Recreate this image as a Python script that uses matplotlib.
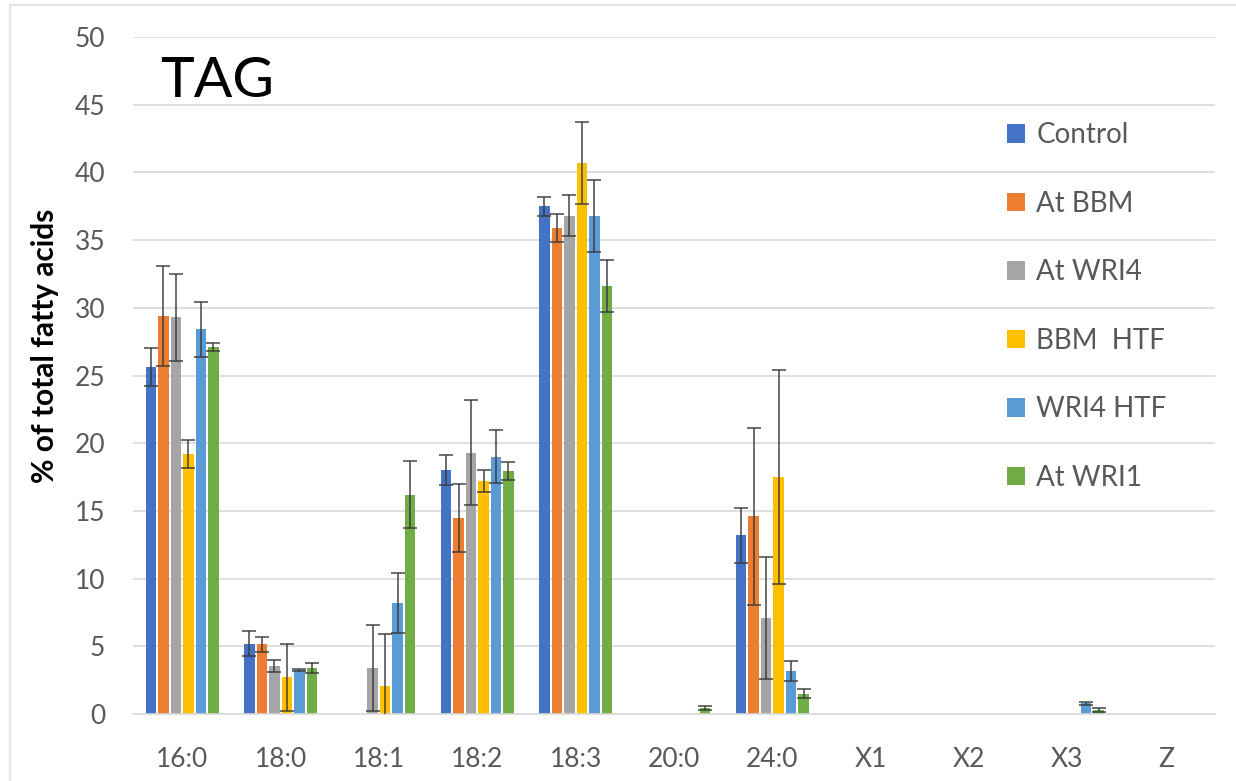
import matplotlib.pyplot as plt
import numpy as np
from matplotlib.patches import Patch

plt.rcParams['font.family'] = ['Lato', 'DejaVu Sans']

# fatty acid species on the x axis
categories = ['16:0', '18:0', '18:1', '18:2', '18:3', '20:0', '24:0', 'X1', 'X2', 'X3', 'Z']

# mean % of total fatty acids and error for each line
control = [25.6, 5.2, 0, 18.0, 37.5, 0, 13.2, 0, 0, 0, 0]
control_err = [1.4, 0.9, 0, 1.1, 0.7, 0, 2.05, 0, 0, 0, 0]
at_bbm = [29.4, 5.15, 0, 14.5, 35.9, 0, 14.6, 0, 0, 0, 0]
at_bbm_err = [3.7, 0.55, 0, 2.5, 1.05, 0, 6.55, 0, 0, 0, 0]
at_wri4 = [29.3, 3.55, 3.4, 19.3, 36.8, 0, 7.1, 0, 0, 0, 0]
at_wri4_err = [3.2, 0.45, 3.2, 3.9, 1.5, 0, 4.5, 0, 0, 0, 0]
bbm_htf = [19.2, 2.7, 2.1, 17.2, 40.7, 0, 17.5, 0, 0, 0, 0]
bbm_htf_err = [1.0, 2.5, 3.8, 0.8, 3.05, 0, 7.9, 0, 0, 0, 0]
wri4_htf = [28.4, 3.25, 8.2, 19.0, 36.8, 0, 3.2, 0, 0, 0.8, 0]
wri4_htf_err = [2.0, 0.1, 2.2, 1.95, 2.65, 0, 0.75, 0, 0, 0.1, 0]
at_wri1 = [27.1, 3.4, 16.2, 17.95, 31.6, 0.45, 1.5, 0, 0, 0.3, 0]
at_wri1_err = [0.3, 0.35, 2.45, 0.65, 1.9, 0.12, 0.35, 0, 0, 0.15, 0]

series = [
    ('Control', control, control_err, '#4472C4'),
    ('At BBM', at_bbm, at_bbm_err, '#ED7D31'),
    ('At WRI4', at_wri4, at_wri4_err, '#A5A5A5'),
    ('BBM  HTF', bbm_htf, bbm_htf_err, '#FFC000'),
    ('WRI4 HTF', wri4_htf, wri4_htf_err, '#5B9BD5'),
    ('At WRI1', at_wri1, at_wri1_err, '#70AD47'),
]

fig = plt.figure(figsize=(12.36, 7.81), dpi=100)
ax = fig.add_axes([0.1076, 0.0858, 0.8754, 0.8668])

x = np.arange(len(categories))
slot = 0.127
bar_w = 0.107
handles = []
for i, (name, vals, errs, color) in enumerate(series):
    pos = x + (i - 2.5) * slot
    vals = np.array(vals, dtype=float)
    errs = np.array(errs, dtype=float)
    ax.bar(pos, vals, width=bar_w, color=color, zorder=2)
    # only draw error bars where there is a measured value
    keep = vals > 0
    ax.errorbar(pos[keep], vals[keep], yerr=errs[keep], fmt='none',
                ecolor='#3A3A3A', elinewidth=1.3, capsize=5, capthick=1.3,
                alpha=0.8, zorder=3)
    handles.append(Patch(facecolor=color, label=name))

ax.set_xlim(-0.5, len(categories) - 0.5)
ax.set_ylim(0, 50)
ax.set_yticks(np.arange(0, 51, 5))
ax.set_xticks(x)
ax.set_xticklabels(categories)
ax.yaxis.grid(True, color='#D9D9D9', linewidth=1.2, zorder=0)
ax.set_axisbelow(True)
for s in ['left', 'right', 'top']:
    ax.spines[s].set_visible(False)
ax.spines['bottom'].set_color('#D9D9D9')
ax.spines['bottom'].set_linewidth(1.2)
ax.tick_params(axis='both', length=0, labelsize=19, labelcolor='#595959')
ax.tick_params(axis='y', pad=20)
ax.tick_params(axis='x', pad=24)

fig.text(160 / 1236, 1 - 97 / 781, 'TAG', fontsize=41, color='black',
         ha='left', va='baseline')
fig.text(45 / 1236, 1 - 346 / 781, '% of total fatty acids', fontsize=21.5,
         fontweight='bold', rotation=90, ha='center', va='center')

ax.legend(handles=handles, loc='upper left',
          bbox_to_anchor=(996 / 1236, 1 - 111 / 781),
          bbox_transform=fig.transFigure, frameon=False, fontsize=20,
          labelcolor='#595959', handlelength=0.65, handleheight=0.65,
          handletextpad=0.4, labelspacing=1.53, borderaxespad=0)

# chart border
fig.add_artist(plt.Line2D([10 / 1236, 10 / 1236], [0, 1 - 5 / 781],
                          transform=fig.transFigure, color='#E6E6E6', lw=1.5))
fig.add_artist(plt.Line2D([10 / 1236, 1], [1 - 5 / 781, 1 - 5 / 781],
                          transform=fig.transFigure, color='#E6E6E6', lw=1.5))

fig.savefig('out.png', dpi=100)
